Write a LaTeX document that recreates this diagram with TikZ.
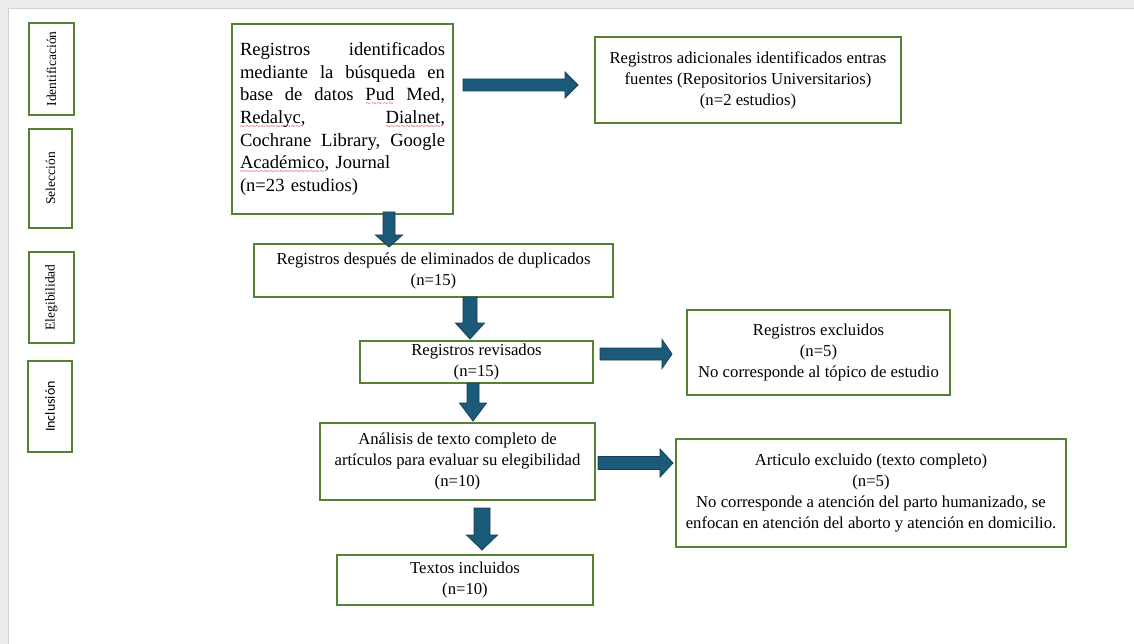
\documentclass[tikz,border=0pt]{standalone}
\usepackage{fontspec}
\setmainfont{Liberation Serif}
\newfontfamily\calibrifont{Carlito}
\definecolor{boxgreen}{HTML}{548235}
\definecolor{arrfill}{HTML}{1B5A78}
\definecolor{arrline}{HTML}{163F55}
\definecolor{pagegray}{HTML}{EDEDED}
\definecolor{spellred}{HTML}{D03030}
\newsavebox\spellbox
\newcommand\spellwave[1]{\leavevmode\sbox\spellbox{#1}\rlap{\raisebox{-6pt}{\textcolor{spellred}{\hbox to \wd\spellbox{\fontsize{9}{9}\selectfont\xleaders\hbox{\char"7E}\hfill}}}}\usebox\spellbox}
\newcommand\jline[1]{\leavevmode\hbox to 205pt{#1}}
\tikzset{
  flowbox/.style={draw=boxgreen, line width=1.3pt, fill=white, inner sep=0pt, align=center,
    font=\fontsize{16.7}{21}\selectfont},
  sidebox/.style={draw=boxgreen, line width=1.3pt, fill=white, inner sep=0pt, rotate=90,
    font=\fontsize{13.5}{16}\selectfont},
  blockarr/.style={fill=arrfill, draw=arrline, line width=0.8pt, line join=miter}
}
% down arrow: x, ytop, yhead, ytip, shaft half, head half
\newcommand\downblock[6]{%
  \filldraw[blockarr] ({#1-#5},#2) -- ({#1+#5},#2) -- ({#1+#5},#3) -- ({#1+#6},#3) -- (#1,#4)
    -- ({#1-#6},#3) -- ({#1-#5},#3) -- cycle;}
% right arrow: y, xleft, xhead, xtip, shaft half, head half
\newcommand\rightblock[6]{%
  \filldraw[blockarr] (#2,{#1-#5}) -- (#3,{#1-#5}) -- (#3,{#1-#6}) -- (#4,#1) -- (#3,{#1+#6})
    -- (#3,{#1+#5}) -- (#2,{#1+#5}) -- cycle;}
\begin{document}
\begin{tikzpicture}[x=1pt, y=-1pt]
\useasboundingbox (0,0) rectangle (1134,644);
\fill[white] (0,0) rectangle (1134,644);
\fill[pagegray] (0,0) rectangle (1134,8);
\fill[pagegray] (0,0) rectangle (8,644);
\draw[gray!35, line width=0.6pt] (8,644) -- (8,8) -- (1134,8);

% side stage labels
\node[sidebox, minimum width=92, minimum height=45] (sid) at (51.5,69) {Identificación};
\node[sidebox, minimum width=99, minimum height=43] (ssel) at (50.5,178.5) {Selección};
\node[sidebox, minimum width=91, minimum height=45] (seleg) at (51.5,297.5) {Elegibilidad};
\node[sidebox, minimum width=91, minimum height=44, font=\calibrifont\fontsize{14}{16}\selectfont] (sinc) at (50,406.5) {Inclusión};

% main boxes
\node[flowbox, minimum width=221, minimum height=190, text width=205, align=left,
  font=\fontsize{18.6}{22.7}\selectfont] (b1) at (342.5,119)
  {\jline{Registros\hfill identificados}\\
   \jline{mediante\hfill la\hfill búsqueda\hfill en}\\
   \jline{base\hfill de\hfill datos\hfill \spellwave{Pud}\hfill Med,}\\
   \jline{\spellwave{Redalyc},\hfill \spellwave{Dialnet},}\\
   \jline{Cochrane\hfill Library,\hfill Google}\\
   \spellwave{Académico}, Journal\\
   (n=23 estudios)};
\node[flowbox, minimum width=306, minimum height=86] (b2) at (748,80)
  {Registros adicionales identificados entras\\fuentes (Repositorios Universitarios)\\(n=2 estudios)};
\node[flowbox, minimum width=359, minimum height=53] (b3) at (433.5,270.5)
  {Registros después de eliminados de duplicados\\(n=15)};
\node[flowbox, minimum width=233, minimum height=42] (b4) at (476.5,362)
  {Registros revisados\\(n=15)};
\node[flowbox, minimum width=263, minimum height=85] (b5) at (818.5,352.5)
  {Registros excluidos\\(n=5)\\No corresponde al tópico de estudio};
\node[flowbox, minimum width=275, minimum height=77] (b6) at (457.5,461.5)
  {Análisis de texto completo de\\artículos para evaluar su elegibilidad\\(n=10)};
\node[flowbox, minimum width=256, minimum height=50] (b7) at (465,580)
  {Textos incluidos\\(n=10)};
\node[flowbox, minimum width=390, minimum height=108] (b8) at (871,493)
  {Articulo excluido (texto completo)\\(n=5)\\No corresponde a atención del parto humanizado, se\\enfocan en atención del aborto y atención en domicilio.};

% block arrows
\rightblock{85}{463}{565}{578}{6}{13}
\rightblock{354}{600}{662}{672}{6}{14.5}
\rightblock{463}{598}{660}{673}{6.5}{14}
\downblock{389}{212}{235}{247}{6}{13.5}
\downblock{470}{297}{323}{339}{7}{14.5}
\downblock{473}{383}{403}{421}{6}{13.5}
\downblock{482}{508}{535}{550}{8}{15.5}
\end{tikzpicture}
\end{document}
